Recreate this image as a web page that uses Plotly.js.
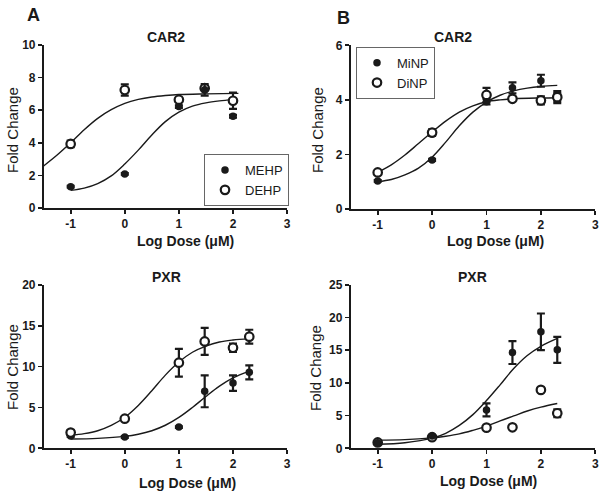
<!DOCTYPE html>
<html>
<head>
<meta charset="utf-8">
<script src="https://cdn.plot.ly/plotly-3.0.1.min.js"></script>
<style>html,body{margin:0;padding:0;background:#fff}#chart{width:604px;height:495px}</style>
</head>
<body>
<div id="chart"></div>
<script>
// ---------- data ----------
const doseA = [-1, 0, 1, 1.477, 2];
const dose6 = [-1, 0, 1, 1.477, 2, 2.301];

// Panel A, CAR2
const mehpCar = [1.31, 2.09, 6.22, 7.25, 5.63];
const mehpCarErr = [0.05, 0.05, 0.08, 0.35, 0.08];
const dehpCar = [3.93, 7.24, 6.64, 7.35, 6.58];
const dehpCarErr = [0.2, 0.35, 0.12, 0.1, 0.5];
const mehpCarFitX = [-1, -0.75, -0.5, -0.25, 0, 0.25, 0.5, 0.75, 1, 1.25, 1.5, 1.75, 2];
const mehpCarFitY = [1.08, 1.22, 1.5, 1.97, 2.7, 3.55, 4.48, 5.3, 5.88, 6.25, 6.45, 6.57, 6.65];
const dehpCarFitX = [-1.5, -1.25, -1, -0.75, -0.5, -0.25, 0, 0.25, 0.5, 0.75, 1, 1.5, 2.1];
const dehpCarFitY = [2.58, 3.25, 4.0, 4.8, 5.5, 6.03, 6.42, 6.66, 6.81, 6.9, 6.96, 7.0, 7.03];

// Panel B, CAR2
const minpCar = [1.03, 1.8, 3.93, 4.44, 4.7, 4.1];
const minpCarErr = [0.03, 0.04, 0.1, 0.2, 0.22, 0.22];
const dinpCar = [1.34, 2.8, 4.18, 4.04, 3.98, 4.1];
const dinpCarErr = [0.05, 0.12, 0.26, 0.05, 0.15, 0.15];
const minpCarFitX = [-1, -0.75, -0.5, -0.25, 0, 0.25, 0.5, 0.75, 1, 1.25, 1.5, 1.75, 2, 2.301];
const minpCarFitY = [1.0, 1.08, 1.25, 1.5, 1.9, 2.45, 3.05, 3.55, 3.92, 4.17, 4.33, 4.43, 4.49, 4.53];
const dinpCarFitX = [-1, -0.75, -0.5, -0.25, 0, 0.25, 0.5, 0.75, 1, 1.25, 1.5, 2, 2.301];
const dinpCarFitY = [1.35, 1.62, 1.98, 2.4, 2.82, 3.22, 3.55, 3.78, 3.93, 4.0, 4.04, 4.07, 4.08];

// Panel A, PXR
const mehpPxr = [1.5, 1.38, 2.6, 6.97, 7.98, 9.29];
const mehpPxrErr = [0.1, 0.1, 0.1, 1.95, 0.95, 0.85];
const dehpPxr = [1.92, 3.62, 10.47, 13.07, 12.3, 13.65];
const dehpPxrErr = [0.3, 0.1, 1.7, 1.65, 0.5, 0.85];
const mehpPxrFitX = [-1, -0.5, 0, 0.25, 0.5, 0.75, 1, 1.25, 1.5, 1.75, 2, 2.301];
const mehpPxrFitY = [1.14, 1.22, 1.46, 1.72, 2.15, 2.82, 3.78, 5.0, 6.34, 7.6, 8.61, 9.45];
const dehpPxrFitX = [-1, -0.75, -0.5, -0.25, 0, 0.25, 0.5, 0.75, 1, 1.25, 1.5, 1.75, 2, 2.301];
const dehpPxrFitY = [1.6, 1.8, 2.15, 2.8, 3.8, 5.25, 7.05, 8.95, 10.55, 11.75, 12.5, 13.0, 13.25, 13.42];

// Panel B, PXR
const minpPxr = [0.86, 1.88, 5.87, 14.64, 17.81, 15.05];
const minpPxrErr = [0.1, 0.1, 1.0, 1.75, 2.8, 2.0];
const dinpPxr = [0.9, 1.7, 3.16, 3.21, 8.93, 5.36];
const dinpPxrErr = [0.1, 0.1, 0.1, 0.1, 0.3, 0.6];
const minpPxrFitX = [-1, -0.5, 0, 0.25, 0.5, 0.75, 1, 1.25, 1.5, 1.75, 2, 2.301];
const minpPxrFitY = [0.62, 0.85, 1.55, 2.3, 3.5, 5.15, 7.3, 9.7, 12.2, 14.2, 15.6, 16.8];
const dinpPxrFitX = [-1, -0.5, 0, 0.25, 0.5, 0.75, 1, 1.25, 1.5, 1.75, 2, 2.301];
const dinpPxrFitY = [1.25, 1.32, 1.6, 1.85, 2.2, 2.75, 3.4, 4.2, 4.95, 5.7, 6.3, 6.85];

const xTicks = [-1, 0, 1, 2, 3];
const ticksCarA = [0, 2, 4, 6, 8, 10];
const ticksCarB = [0, 2, 4, 6];
const ticksPxrA = [0, 5, 10, 15, 20];
const ticksPxrB = [0, 5, 10, 15, 20, 25];

// ---------- styling helpers ----------
const FONT = "Arial, 'Liberation Sans', sans-serif";
const INK = '#1a1a1a';
const W = 604, H = 495;
const px = v => v / W;
const py = v => 1 - v / H;

function fit(xa, ya, xs, ys) {
  return {x: xs, y: ys, xaxis: xa, yaxis: ya, type: 'scatter', mode: 'lines',
    line: {color: INK, width: 1.4, shape: 'spline'}, showlegend: false, hoverinfo: 'skip'};
}
function pts(xa, ya, xs, ys, err, open, name, legend, rank) {
  return {x: xs, y: ys, xaxis: xa, yaxis: ya, type: 'scatter', mode: 'markers', name: name,
    error_y: {type: 'data', array: err, visible: true, color: INK, thickness: 2.2, width: 4},
    marker: open ? {symbol: 'circle', size: 8.5, color: '#fff', line: {color: INK, width: 2.2}}
                 : {symbol: 'circle', size: 7.5, color: INK, line: {color: INK, width: 0}},
    showlegend: !!legend, legend: legend || 'legend', legendrank: rank || 1000};
}

const data = [
  fit('x', 'y', dehpCarFitX, dehpCarFitY),
  fit('x', 'y', mehpCarFitX, mehpCarFitY),
  pts('x', 'y', doseA, dehpCar, dehpCarErr, true, 'DEHP', 'legend', 2),
  pts('x', 'y', doseA, mehpCar, mehpCarErr, false, 'MEHP', 'legend', 1),

  fit('x2', 'y2', dinpCarFitX, dinpCarFitY),
  fit('x2', 'y2', minpCarFitX, minpCarFitY),
  pts('x2', 'y2', dose6, minpCar, minpCarErr, false, 'MiNP', 'legend2', 1),
  pts('x2', 'y2', dose6, dinpCar, dinpCarErr, true, 'DiNP', 'legend2', 2),

  fit('x3', 'y3', dehpPxrFitX, dehpPxrFitY),
  fit('x3', 'y3', mehpPxrFitX, mehpPxrFitY),
  pts('x3', 'y3', dose6, mehpPxr, mehpPxrErr, false, 'MEHP'),
  pts('x3', 'y3', dose6, dehpPxr, dehpPxrErr, true, 'DEHP'),

  fit('x4', 'y4', dinpPxrFitX, dinpPxrFitY),
  fit('x4', 'y4', minpPxrFitX, minpPxrFitY),
  pts('x4', 'y4', dose6, dinpPxr, dinpPxrErr, true, 'DiNP'),
  pts('x4', 'y4', dose6, minpPxr, minpPxrErr, false, 'MiNP')
];

function xax(dom, anchor) {
  return {domain: dom, anchor: anchor, range: [-1.5, 3], tickvals: xTicks, ticktext: xTicks.map(String),
    showline: true, linecolor: INK, linewidth: 1.7, ticks: 'outside', ticklen: 4, tickwidth: 1.7,
    tickcolor: INK, showgrid: false, zeroline: false, fixedrange: true,
    tickfont: {family: FONT, size: 12, color: INK, weight: 'bold'}};
}
function yax(dom, anchor, max, tv) {
  return {domain: dom, anchor: anchor, range: [0, max], tickvals: tv, ticktext: tv.map(String),
    showline: true, linecolor: INK, linewidth: 1.7, ticks: 'outside', ticklen: 4, tickwidth: 1.7,
    tickcolor: INK, showgrid: false, zeroline: false, fixedrange: true,
    tickfont: {family: FONT, size: 12, color: INK, weight: 'bold'}};
}

const xdA = [px(43.6), px(287.1)];
const xdB = [px(350.5), px(595.3)];
const ydTopA = [py(208), py(45)];
const ydTopB = [py(209), py(45.3)];
const ydBot = [py(448.3), py(284.8)];

function ann(text, x, y, size, bold, angle) {
  return {text: text, x: px(x), y: py(y), xref: 'paper', yref: 'paper', showarrow: false,
    xanchor: 'center', yanchor: 'middle', textangle: angle || 0,
    font: {family: FONT, size: size, color: INK, weight: bold ? 'bold' : 'normal'}};
}

const legendStyle = {font: {family: FONT, size: 13, color: INK}, bgcolor: '#fff',
  bordercolor: '#666', borderwidth: 1, xanchor: 'left', yanchor: 'top',
  itemclick: false, itemdoubleclick: false, tracegroupgap: 0};

const layout = {
  width: W, height: H, margin: {l: 0, r: 0, t: 0, b: 0},
  paper_bgcolor: '#fff', plot_bgcolor: '#fff', showlegend: true,
  font: {family: FONT, color: INK},
  xaxis: xax(xdA, 'y'), yaxis: yax(ydTopA, 'x', 10, ticksCarA),
  xaxis2: xax(xdB, 'y2'), yaxis2: yax(ydTopB, 'x2', 6, ticksCarB),
  xaxis3: xax(xdA, 'y3'), yaxis3: yax(ydBot, 'x3', 20, ticksPxrA),
  xaxis4: xax(xdB, 'y4'), yaxis4: yax(ydBot, 'x4', 25, ticksPxrB),
  legend: Object.assign({x: px(204), y: py(154)}, legendStyle),
  legend2: Object.assign({x: px(356), y: py(46.7)}, legendStyle),
  annotations: [
    ann('A', 33, 15, 18, true),
    ann('B', 343, 18, 18, true),
    ann('CAR2', 166, 37, 14, true),
    ann('CAR2', 453, 37, 14, true),
    ann('PXR', 166, 277, 14, true),
    ann('PXR', 473, 277, 14, true),
    ann('Fold Change', 12, 130, 15, false, -90),
    ann('Fold Change', 317, 130, 15, false, -90),
    ann('Fold Change', 12, 367, 15, false, -90),
    ann('Fold Change', 315, 368, 15, false, -90),
    ann('Log Dose (μM)', 185, 241, 14, true),
    ann('Log Dose (μM)', 495, 241, 14, true),
    ann('Log Dose (μM)', 187, 483, 14, true),
    ann('Log Dose (μM)', 488, 481, 14, true)
  ]
};

Plotly.newPlot('chart', data, layout, {displayModeBar: false, staticPlot: true});
</script>
</body>
</html>
